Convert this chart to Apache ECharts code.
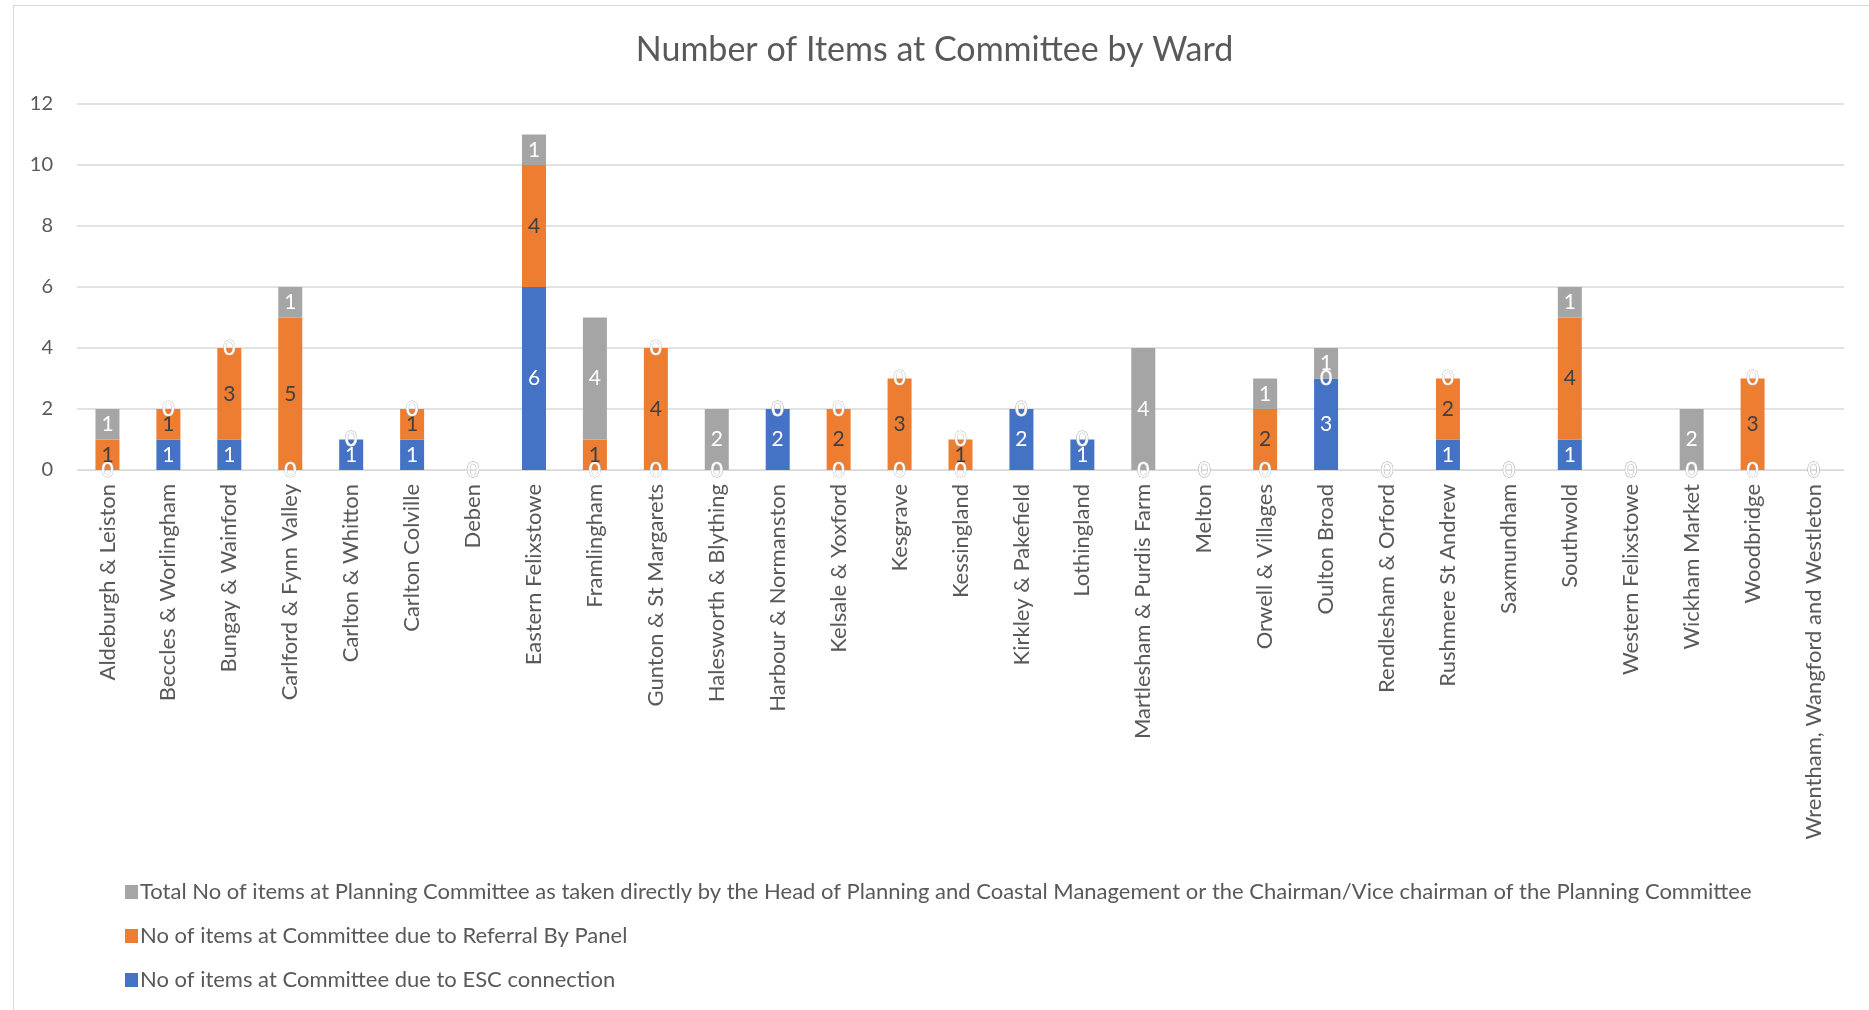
<!DOCTYPE html>
<html>
<head>
<meta charset="utf-8">
<script src="https://cdn.jsdelivr.net/npm/echarts@6/dist/echarts.min.js"></script>
<style>
	html, body { margin: 0; padding: 0; background: #fff; }
	#frame { position: absolute; left: 13px; top: 5px; width: 1860px; height: 1010px; border: 1px solid #d9d9d9; box-sizing: border-box; }
	#chart { position: absolute; left: 0; top: 0; width: 1869px; height: 1010px; }
</style>
</head>
<body>
<div id="frame"></div>
<div id="chart"></div>
<script>
	// wards along the x axis
	const wards = [
		'Aldeburgh & Leiston', 'Beccles & Worlingham', 'Bungay & Wainford', 'Carlford & Fynn Valley',
		'Carlton & Whitton', 'Carlton Colville', 'Deben', 'Eastern Felixstowe', 'Framlingham',
		'Gunton & St Margarets', 'Halesworth & Blything', 'Harbour & Normanston', 'Kelsale & Yoxford',
		'Kesgrave', 'Kessingland', 'Kirkley & Pakefield', 'Lothingland', 'Martlesham & Purdis Farm',
		'Melton', 'Orwell & Villages', 'Oulton Broad', 'Rendlesham & Orford', 'Rushmere St Andrew',
		'Saxmundham', 'Southwold', 'Western Felixstowe', 'Wickham Market', 'Woodbridge',
		'Wrentham, Wangford and Westleton'
	];
	const escConnection = [0, 1, 1, 0, 1, 1, 0, 6, 0, 0, 0, 2, 0, 0, 0, 2, 1, 0, 0, 0, 3, 0, 1, 0, 1, 0, 0, 0, 0];
	const referralByPanel = [1, 1, 3, 5, 0, 1, 0, 4, 1, 4, 0, 0, 2, 3, 1, 0, 0, 0, 0, 2, 0, 0, 2, 0, 4, 0, 0, 3, 0];
	const headOfPlanning = [1, 0, 0, 1, 0, 0, 0, 1, 4, 0, 2, 0, 0, 0, 0, 0, 0, 4, 0, 1, 1, 0, 0, 0, 1, 0, 2, 0, 0];
	const yTicks = {min: 0, max: 12, interval: 2};

	const nameEsc = 'No of items at Committee due to ESC connection';
	const nameReferral = 'No of items at Committee due to Referral By Panel';
	const nameHead = 'Total No of items at Planning Committee as taken directly by the Head of Planning and Coastal Management or the Chairman/Vice chairman of the Planning Committee';

	const font = 'Lato, "Open Sans", sans-serif';

	// zero values still get a label, drawn hollow like the original
	function withZeros(arr) {
		return arr.map(v => v === 0 ? {value: 0, label: {color: '#fff', textBorderColor: '#bfbfbf', textBorderWidth: 1}} : v);
	}

	function barSeries(name, data, color, labelColor) {
		return {
			name: name,
			type: 'bar',
			stack: 'total',
			barWidth: 24,
			data: withZeros(data),
			itemStyle: {color: color},
			label: {
				show: true,
				position: 'inside',
				color: labelColor,
				fontSize: 21,
				fontFamily: font
			}
		};
	}

	let chart = echarts.init(document.getElementById('chart'));
	const option = {
		animation: false,
		title: {
			text: 'Number of Items at Committee by Ward',
			left: 'center',
			top: 28,
			textStyle: {fontSize: 34, fontWeight: 'normal', color: '#595959', fontFamily: font}
		},
		legend: {
			orient: 'vertical',
			left: 120,
			top: 876,
			itemGap: 22,
			itemWidth: 13,
			itemHeight: 14,
			icon: 'rect',
			data: [nameHead, nameReferral, nameEsc],
			textStyle: {fontSize: 22, color: '#595959', fontFamily: font, padding: [0, 0, 0, -3]}
		},
		grid: {
			left: 77,
			right: 25,
			top: 104,
			bottom: 540
		},
		xAxis: {
			type: 'category',
			data: wards,
			axisLine: {lineStyle: {color: '#d9d9d9'}},
			axisTick: {show: false},
			axisLabel: {
				rotate: 90,
				interval: 0,
				margin: 14,
				fontSize: 22,
				color: '#595959',
				fontFamily: font
			}
		},
		yAxis: {
			type: 'value',
			min: yTicks.min,
			max: yTicks.max,
			interval: yTicks.interval,
			axisLine: {show: false},
			axisTick: {show: false},
			splitLine: {lineStyle: {color: '#d9d9d9', width: 1.5}},
			axisLabel: {fontSize: 20, color: '#595959', margin: 24, fontFamily: font}
		},
		series: [
			barSeries(nameEsc, escConnection, '#4472c4', '#ffffff'),
			barSeries(nameReferral, referralByPanel, '#ed7d31', '#404040'),
			barSeries(nameHead, headOfPlanning, '#a5a5a5', '#ffffff')
		]
	};
	chart.setOption(option);
</script>
</body>
</html>
